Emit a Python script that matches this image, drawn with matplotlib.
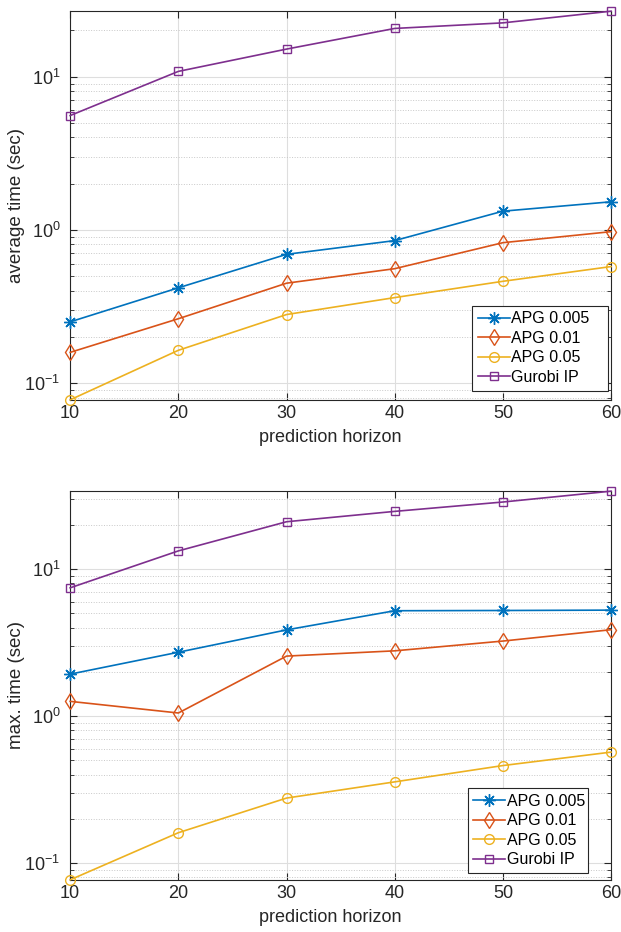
import matplotlib
matplotlib.use("Agg")

import matplotlib.pyplot as plt
from matplotlib.ticker import LogLocator, NullFormatter, FuncFormatter
import numpy as np

plt.rcParams["font.family"] = ["Liberation Sans", "DejaVu Sans"]
plt.rcParams["mathtext.default"] = "regular"

# prediction horizon values
horizon = [10, 20, 30, 40, 50, 60]

# average solve time (sec)
avg_apg_0005 = [0.25, 0.417, 0.69, 0.848, 1.32, 1.52]
avg_apg_001 = [0.158, 0.262, 0.447, 0.556, 0.822, 0.97]
avg_apg_005 = [0.0774, 0.163, 0.279, 0.36, 0.46, 0.574]
avg_gurobi = [5.56, 10.8, 15.1, 20.6, 22.4, 26.7]

# max. solve time (sec)
max_apg_0005 = [1.93, 2.72, 3.86, 5.21, 5.23, 5.26]
max_apg_001 = [1.26, 1.05, 2.56, 2.78, 3.24, 3.87]
max_apg_005 = [0.077, 0.161, 0.277, 0.357, 0.461, 0.569]
max_gurobi = [7.46, 13.3, 21.0, 24.7, 28.6, 33.9]

labels = ["APG 0.005", "APG 0.01", "APG 0.05", "Gurobi IP"]
colors = ["#0072BD", "#D95319", "#EDB120", "#7E2F8E"]
markers = [(8, 2, 0), "d", "o", "s"]
msizes = [9, 8.5, 7, 5.5]

AX_DARK = "#262626"


def log_label(v, pos):
    return r"$10^{%d}$" % int(round(np.log10(v)))


def draw_panel(ax, series, ylabel, leg_box):
    for ys, lab, col, mk, ms in zip(series, labels, colors, markers, msizes):
        ax.plot(horizon, ys, color=col, marker=mk, markersize=ms,
                markerfacecolor="none", markeredgecolor=col,
                markeredgewidth=1.0, linewidth=1.2, label=lab,
                clip_on=False, zorder=3)
    ax.set_yscale("log")
    allv = [v for ys in series for v in ys]
    ax.set_xlim(horizon[0], horizon[-1])
    ax.set_ylim(min(allv), max(allv))
    ax.set_xticks(horizon)
    ax.yaxis.set_major_locator(LogLocator(base=10))
    ax.yaxis.set_major_formatter(FuncFormatter(log_label))
    ax.yaxis.set_minor_locator(LogLocator(base=10, subs=range(2, 10)))
    ax.yaxis.set_minor_formatter(NullFormatter())

    ax.grid(True, which="major", color="#dedede", linewidth=0.8)
    ax.grid(True, which="minor", axis="y", color="#c8c8c8",
            linestyle=":", linewidth=0.7)
    ax.set_axisbelow(True)

    ax.tick_params(which="both", direction="in", top=True, right=True,
                   colors=AX_DARK, labelsize=13)
    ax.tick_params(which="major", length=5)
    ax.tick_params(which="minor", length=3)
    ax.tick_params(axis="y", which="major", pad=7)
    for sp in ax.spines.values():
        sp.set_color(AX_DARK)
        sp.set_linewidth(0.8)

    ax.set_xlabel("prediction horizon", fontsize=13, color=AX_DARK)
    ax.xaxis.set_label_coords(0.481, -0.076)
    ax.set_ylabel(ylabel, fontsize=13.5, color=AX_DARK)
    ax.yaxis.set_label_coords(-0.083, 0.5)

    leg = ax.legend(loc="lower left", bbox_to_anchor=leg_box, mode="expand",
                    fontsize=11.5, frameon=True, fancybox=False,
                    edgecolor=AX_DARK, framealpha=1,
                    handlelength=2.0, handletextpad=0.1, borderpad=0.35,
                    labelspacing=0.28, borderaxespad=0.0)
    leg.get_frame().set_linewidth(0.8)


fig = plt.figure(figsize=(6.21, 9.32), dpi=100)
ax1 = fig.add_axes([0.113, 0.571, 0.871, 0.417])
ax2 = fig.add_axes([0.113, 0.056, 0.871, 0.417])

draw_panel(ax1, [avg_apg_0005, avg_apg_001, avg_apg_005, avg_gurobi],
           "average time (sec)", (0.743, 0.024, 0.251, 0.2))
draw_panel(ax2, [max_apg_0005, max_apg_001, max_apg_005, max_gurobi],
           "max. time (sec)", (0.735, 0.018, 0.222, 0.2))

fig.savefig("out.png", dpi=100)
